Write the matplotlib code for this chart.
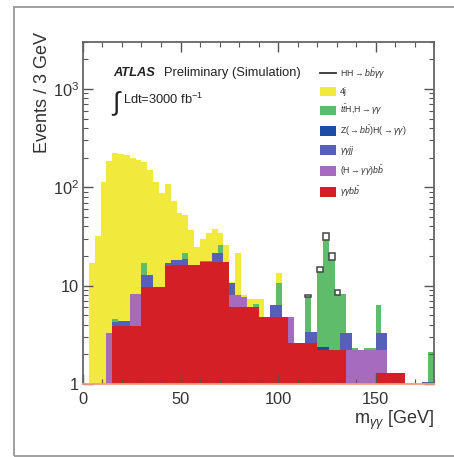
import numpy as np
import matplotlib
matplotlib.use("Agg")
import matplotlib.pyplot as plt
from matplotlib.patches import Patch, Rectangle
from matplotlib.lines import Line2D

plt.rcParams['font.family'] = ['Liberation Sans', 'DejaVu Sans']
plt.rcParams['mathtext.fontset'] = 'custom'
plt.rcParams['mathtext.rm'] = 'Liberation Sans'
plt.rcParams['mathtext.it'] = 'Liberation Sans:italic'
plt.rcParams['mathtext.bf'] = 'Liberation Sans:bold'

# 3 GeV bins from 0 to 180 GeV
bin_edges = np.arange(0, 183, 3)

# events per bin for each background / signal sample
gg_bb = [0, 0, 0, 0, 0, 3.9, 3.9, 3.9, 3.9, 3.9,
         9.6, 9.6, 9.6, 9.6, 15.9, 16.2, 16.2, 16.2, 16.2, 16.2,
         17.5, 17.5, 17.5, 17.5, 17.5, 6.1, 6.1, 6.1, 6.1, 6.1,
         4.8, 4.8, 4.8, 4.8, 4.8, 2.63, 2.63, 2.63, 2.63, 2.63,
         2.2, 2.2, 2.2, 2.2, 2.2, 0, 0, 0, 0, 0,
         1.28, 1.28, 1.28, 1.28, 1.28, 0, 0, 0, 0, 0]
h_bb = [0, 0, 0, 0, 3.3, 0, 0, 0, 4.3, 4.3,
        0, 0, 0, 0, 0, 0, 0, 0, 0, 0,
        0.3, 0.3, 0, 0, 0, 1.9, 1.9, 1.5, 0, 0,
        0, 0, 0, 0, 0, 2.17, 0, 0, 0, 0,
        0, 0, 0, 0, 0, 2.2, 2.2, 2.2, 2.2, 2.2,
        0.92, 0.92, 0, 0, 0, 0, 0, 0, 0, 0]
gg_jj = [0, 0, 0, 0, 0, 0.4, 0.45, 0.45, 0, 0,
         3.2, 3.2, 0, 0, 1.1, 2.1, 2.1, 2.3, 0, 0,
         0, 0, 4.2, 4.2, 0, 2.7, 0, 0, 0, 0,
         0, 0, 1.55, 1.55, 0, 0, 0, 0, 0.77, 0.77,
         0, 0, 0, 0, 1.13, 1.13, 0, 0, 0, 0,
         1.1, 1.1, 0, 0, 0, 0, 0, 0, 1.05, 1.05]
zh = [0] * 40 + [0.2, 0.2] + [0] * 18
tth = [0, 0, 0, 0, 0, 0.3, 0, 0, 0, 0,
       4.1, 0, 0, 0, 0, 0, 0, 3.2, 0, 0,
       0, 0, 0, 4.3, 0, 0, 0, 0, 0, 0.4,
       0, 0, 0, 4.25, 0, 0, 0, 0, 4.2, 0,
       11.5, 26.6, 16.1, 5.8, 4.87, 0, 0.15, 0, 0.1, 0.1,
       3.05, 0, 0, 0, 0, 0, 0, 0, 0, 1.08]
jets_4j = [0, 17, 32, 114, 183.7, 220.4, 215.6, 207.6, 189.8, 181.8,
           166.1, 137.2, 104.4, 77.4, 90, 54.7, 36.2, 30.3, 20.8, 8.8,
           11.9, 16.2, 15.8, 8.6, 8.5, 0.3, 13.4, 0.4, 1.2, 0.8,
           2.5, 0, 0, 2.9, 0, 0, 0, 0, 0, 0,
           0, 0, 0, 0, 0, 0, 0, 0, 0, 0,
           0, 0, 0, 0, 0, 0, 0, 0, 0, 0]
hh = [0] * 38 + [0.4, 0, 1.7, 5.0, 3.1, 1.1] + [0] * 16

samples = [
    (gg_bb, '#d41f26', r'$\gamma\gamma b\bar{b}$'),
    (h_bb, '#a56cbd', r'(H$\rightarrow\gamma\gamma$)$b\bar{b}$'),
    (gg_jj, '#5660b9', r'$\gamma\gamma jj$'),
    (zh, '#1d4ca6', r'Z($\rightarrow b\bar{b}$)H($\rightarrow\gamma\gamma$)'),
    (tth, '#5dbd6b', r'$t\bar{t}$H,H$\rightarrow\gamma\gamma$'),
    (jets_4j, '#f1e93b', '4j'),
]

fig = plt.figure(figsize=(4.54, 4.57), dpi=100)
ax = fig.add_axes([0.1828, 0.1597, 0.7732, 0.7483])

# stack the samples, bottom one first
bottom = np.zeros(len(bin_edges) - 1)
for vals, col, lab in samples:
    vals = np.array(vals, dtype=float)
    ax.stairs(bottom + vals, bin_edges, baseline=bottom.copy(), fill=True,
              color=col, linewidth=0)
    bottom = bottom + vals

# signal drawn as open boxes on top of the stack
hh = np.array(hh, dtype=float)
sel = hh > 0
ax.bar(bin_edges[:-1][sel], hh[sel], width=3, bottom=bottom[sel], align='edge',
       fill=False, edgecolor='#444444', linewidth=1.1)

ax.set_yscale('log')
ax.set_xlim(0, 180)
ax.set_ylim(1, 3000)

for side in ['left', 'top', 'right']:
    ax.spines[side].set_color('#666666')
    ax.spines[side].set_linewidth(1.3)
ax.spines['bottom'].set_color('#e9a183')
ax.spines['bottom'].set_linewidth(1.3)

ax.set_xticks([0, 50, 100, 150])
ax.set_xticks(np.arange(0, 181, 10), minor=True)
ax.set_yticks([1, 10, 100, 1000], labels=['1', '10', r'$10^{2}$', r'$10^{3}$'])
ax.tick_params(which='both', direction='in', top=True, right=True,
               color='#555555', labelsize=11.8, labelcolor='#333333')
ax.tick_params(which='major', length=7, width=1.0)
ax.tick_params(which='minor', length=3.5, width=0.8)
ax.tick_params(axis='x', pad=6)
ax.tick_params(axis='y', pad=3)

ax.set_ylabel('Events / 3 GeV', fontsize=13, color='#333333', loc='top')
ax.set_xlabel(r'm$_{\gamma\gamma}$ [GeV]', fontsize=13, color='#333333', loc='right')
ax.yaxis.set_label_coords(-0.092, 1.03)
ax.xaxis.set_label_coords(1.0, -0.072)

ax.text(0.085, 0.9, 'ATLAS', transform=ax.transAxes, fontsize=9.3,
        fontweight='bold', fontstyle='italic', color='#222222')
ax.text(0.232, 0.9, 'Preliminary (Simulation)', transform=ax.transAxes,
        fontsize=9.3, color='#222222')
ax.text(0.08, 0.8, r'$\int$', transform=ax.transAxes, fontsize=19, color='#222222')
ax.text(0.115, 0.818, r'Ldt=3000 fb$^{-1}$', transform=ax.transAxes,
        fontsize=9.3, color='#222222')

handles = [Line2D([], [], color='#333333', linewidth=1.3)]
labels = [r'HH$\rightarrow b\bar{b}\gamma\gamma$']
for vals, col, lab in reversed(samples):
    handles.append(Patch(facecolor=col, edgecolor='none'))
    labels.append(lab)
ax.legend(handles, labels, loc='upper left', bbox_to_anchor=(0.675, 0.93),
          frameon=False, fontsize=6.3, handlelength=1.85, handleheight=1.3,
          labelspacing=0.7, handletextpad=0.4, borderpad=0, borderaxespad=0,
          labelcolor='#333333')

# thin grey frame around the whole figure
fig.patches.append(Rectangle((14 / 454, 1 / 457), 1.2, 449 / 457,
                             transform=fig.transFigure, fill=False,
                             edgecolor='#999999', linewidth=1.3))

fig.savefig('out.png', dpi=100)
